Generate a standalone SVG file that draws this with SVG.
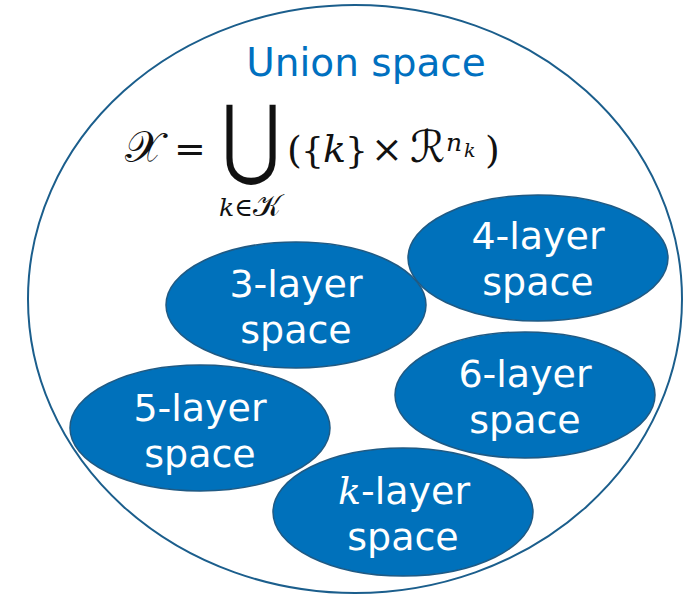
<svg xmlns="http://www.w3.org/2000/svg" width="688" height="594" viewBox="0 0 688 594">
<style>
.blob{fill:#0071BB;stroke:#1F5A84;stroke-width:1.5}
.lbl{font-family:"DejaVu Sans",Verdana,sans-serif;font-size:38px;fill:#ffffff;text-anchor:middle}
.math{font-family:"DejaVu Serif","Liberation Serif","DejaVu Sans","Noto Sans",serif;fill:#111111}
.it{font-style:italic}
</style>
<rect width="688" height="594" fill="#ffffff"/>
<g id="union-space">
<ellipse cx="355" cy="299" rx="327" ry="294" fill="none" stroke="#1B5E8C" stroke-width="2"/>
<text x="366" y="76" font-family="DejaVu Sans, Verdana, sans-serif" font-size="39" fill="#0070C0" text-anchor="middle">Union space</text>
</g>
<g id="formula" class="math">
<text font-size="44" x="125" y="162">𝒳</text>
<text font-size="38" x="174" y="162">=</text>
<text font-size="100" text-anchor="middle" transform="translate(251,168) scale(0.72,0.88)" font-family="DejaVu Sans, sans-serif">⋃</text>
<text font-size="38" x="287" y="163">(</text>
<text font-size="36" x="301" y="163">{</text>
<text font-size="38" x="323" y="162" class="it">k</text>
<text font-size="36" x="345" y="163">}</text>
<text font-size="38" x="371" y="162">×</text>
<text font-size="44" x="410" y="162">ℛ</text>
<text font-size="38" x="485" y="163">)</text>
<text font-size="25" class="it" x="446" y="151">n</text>
<text font-size="19" class="it" x="464" y="157">k</text>
<text font-size="25" y="216"><tspan x="219" class="it">k</tspan><tspan>∈</tspan><tspan font-size="30">𝒦</tspan></text>
</g>
<g id="node-4-layer">
<ellipse class="blob" cx="538" cy="258" rx="130" ry="63"/>
<text class="lbl"><tspan x="538" y="249">4-layer</tspan><tspan x="538" y="295">space</tspan></text>
</g>
<g id="node-3-layer">
<ellipse class="blob" cx="296" cy="305" rx="130" ry="63"/>
<text class="lbl"><tspan x="296" y="297">3-layer</tspan><tspan x="296" y="343">space</tspan></text>
</g>
<g id="node-6-layer">
<ellipse class="blob" cx="525" cy="395" rx="130" ry="63"/>
<text class="lbl"><tspan x="525" y="387">6-layer</tspan><tspan x="525" y="433">space</tspan></text>
</g>
<g id="node-5-layer">
<ellipse class="blob" cx="200" cy="428" rx="130" ry="63"/>
<text class="lbl"><tspan x="200" y="421">5-layer</tspan><tspan x="200" y="467">space</tspan></text>
</g>
<g id="node-k-layer">
<ellipse class="blob" cx="403" cy="512" rx="130" ry="64"/>
<text class="lbl"><tspan x="404" y="504"><tspan font-family="DejaVu Serif, serif" font-style="italic">k</tspan>-layer</tspan><tspan x="403" y="550">space</tspan></text>
</g>
<g id="connectors"></g>
</svg>
